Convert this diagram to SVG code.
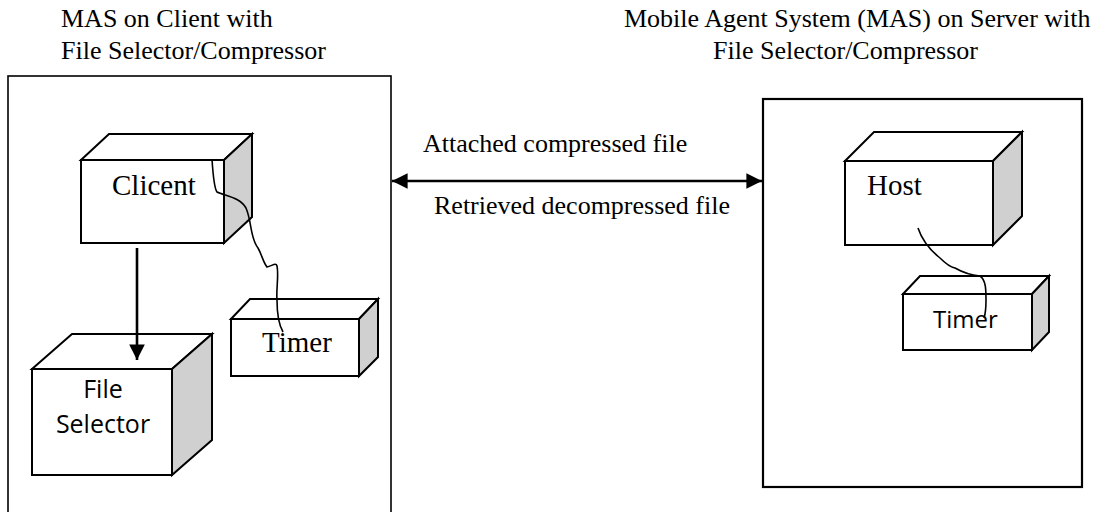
<svg xmlns="http://www.w3.org/2000/svg" width="1107" height="512" viewBox="0 0 1107 512">
<style>
.serif{font-family:"Liberation Serif","Times New Roman",serif;fill:#000}
.sans{font-family:"Open Sans","Noto Sans",sans-serif;fill:#000}
.front{fill:#fff;stroke:#000;stroke-width:2;stroke-linejoin:miter}
.top{fill:#fff;stroke:#000;stroke-width:2}
.side{fill:#d0d0d0;stroke:#000;stroke-width:2}
.frame{fill:#fff;stroke:#000}
.wave{fill:none;stroke:#000;stroke-width:1.6}
</style>
<defs>
<marker id="ah" viewBox="0 0 10 10" refX="10" refY="5" markerWidth="6" markerHeight="6" orient="auto-start-reverse" markerUnits="strokeWidth">
<path d="M0,0 L10,5 L0,10 z" fill="#000"/>
</marker>
</defs>
<rect width="1107" height="512" fill="#fff"/>

<g id="client-system">
<rect class="frame" x="8" y="76" width="383" height="450" stroke-width="1.6"/>
<text class="serif" font-size="26" x="61" y="27">MAS on Client with</text>
<text class="serif" font-size="26" x="61" y="59">File Selector/Compressor</text>
</g>

<g id="server-system">
<rect class="frame" x="763" y="99" width="319" height="388" stroke-width="2.2"/>
<text class="serif" font-size="26" x="624" y="27">Mobile Agent System (MAS) on Server with</text>
<text class="serif" font-size="26" x="713" y="59">File Selector/Compressor</text>
</g>

<g id="clicent">
<polygon class="top" points="81,160 109,134 252,134 224,160"/>
<polygon class="side" points="224,160 252,134 252,217 224,243"/>
<rect class="front" x="81" y="160" width="143" height="83"/>
<text class="serif" font-size="29" x="112" y="195">Clicent</text>
</g>

<g id="file-selector">
<polygon class="top" points="32,369 72,334 212,334 172,369"/>
<polygon class="side" points="172,369 212,334 212,440 172,475"/>
<rect class="front" x="32" y="369" width="140" height="106"/>
<text class="sans" font-size="25" x="103" y="398" text-anchor="middle">File</text>
<text class="sans" font-size="25" x="103" y="433" text-anchor="middle">Selector</text>
</g>

<g id="client-timer">
<polygon class="top" points="231,319 250,299 378,299 359,319"/>
<polygon class="side" points="359,319 378,299 378,357 359,376"/>
<rect class="front" x="231" y="319" width="128" height="57"/>
<text class="serif" font-size="29" x="262" y="352">Timer</text>
</g>

<g id="host">
<polygon class="top" points="845,161 874,132 1022,132 993,161"/>
<polygon class="side" points="993,161 1022,132 1022,216 993,245"/>
<rect class="front" x="845" y="161" width="148" height="84"/>
<text class="serif" font-size="29" x="867" y="195">Host</text>
</g>

<g id="server-timer">
<polygon class="top" points="903,294 920,276 1049,276 1032,294"/>
<polygon class="side" points="1032,294 1049,276 1049,332 1032,350"/>
<rect class="front" x="903" y="294" width="129" height="56"/>
<text class="sans" font-size="24" x="933" y="328">Timer</text>
</g>

<g id="connectors">
<line x1="392" y1="181" x2="762" y2="181" stroke="#000" stroke-width="2.6" marker-start="url(#ah)" marker-end="url(#ah)"/>
<text class="serif" font-size="26" x="423" y="152">Attached compressed file</text>
<text class="serif" font-size="26" x="434" y="214">Retrieved decompressed file</text>
<line x1="137" y1="248" x2="137" y2="360" stroke="#000" stroke-width="2.6" marker-end="url(#ah)"/>
<path class="wave" d="M212,159 C213,175 214,188 217,192 C225,196 240,197 246,208 C252,222 250,238 258,248 C262,255 263,262 267,267 C272,266 276,262 277,266 C279,275 276,290 277,300 C277,315 279,325 283,332"/>
<path class="wave" d="M918,228 C922,240 930,250 940,258 C945,263 950,267 955,268 C962,272 970,275 980,276 C986,280 986,290 986,300 C986,310 985,315 984,318"/>
</g>
</svg>
